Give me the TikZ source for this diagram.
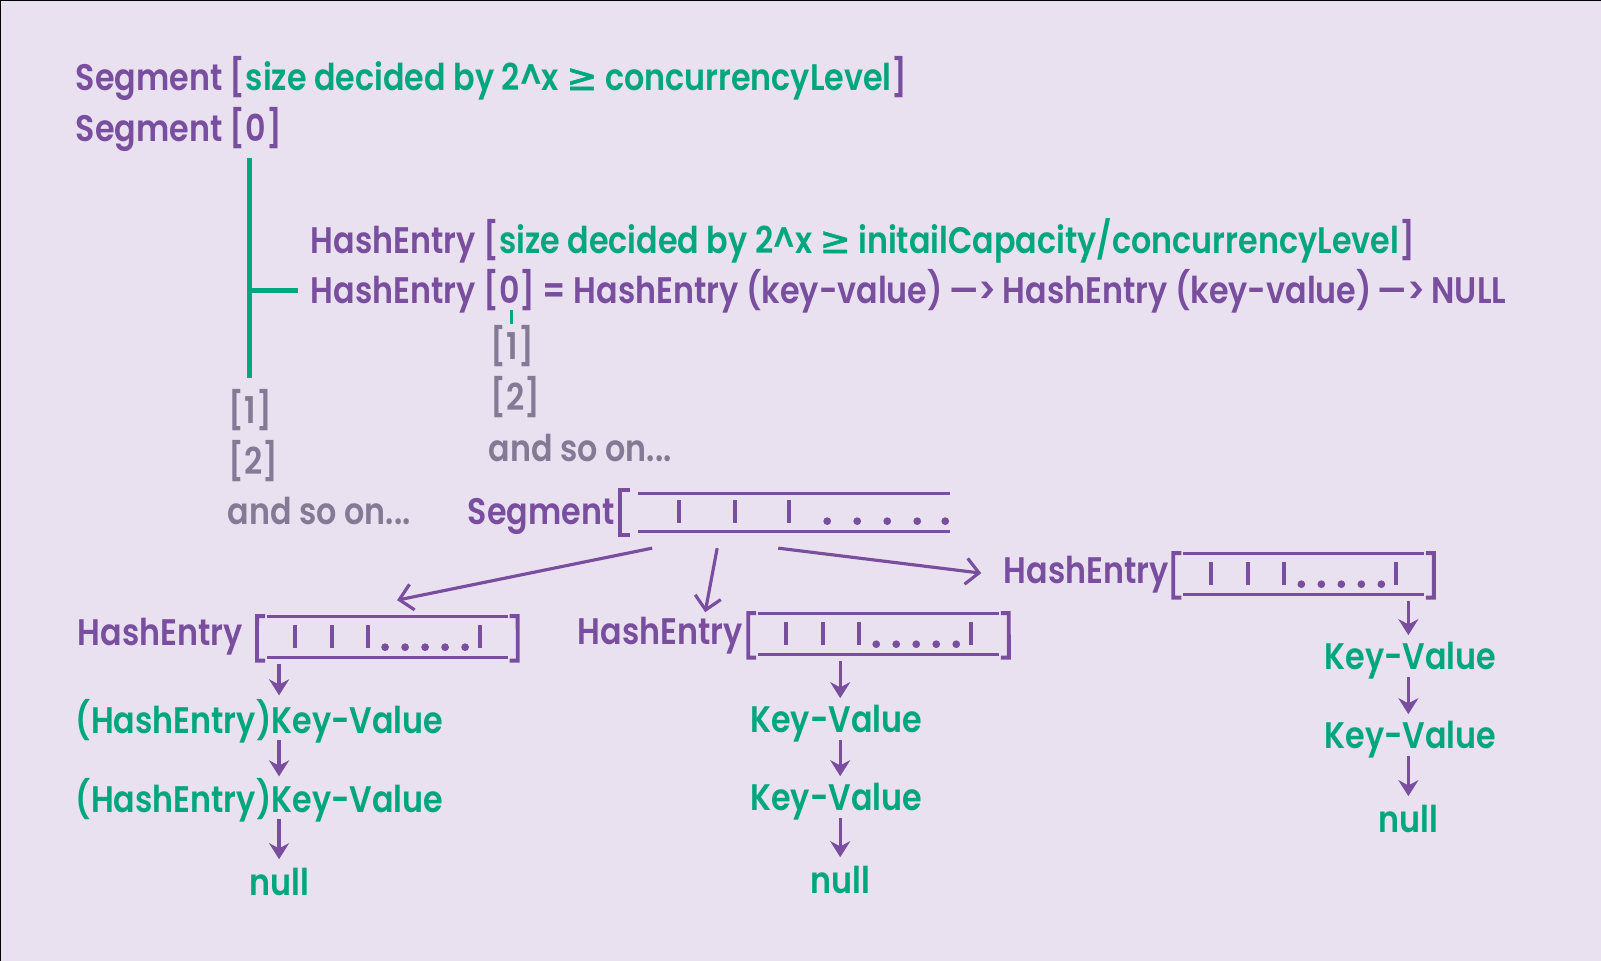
\documentclass[tikz,border=0pt]{standalone}
\usepackage{fontspec}
\setmainfont{Poppins}[UprightFont=* SemiBold, FakeStretch=0.86]
\newfontfamily\symfont{DejaVu Sans}[FakeBold=1.5]
\usetikzlibrary{arrows.meta, positioning, calc}
\definecolor{bgpurple}{HTML}{E9E1F0}
\definecolor{plum}{HTML}{7A4E9F}
\definecolor{mint}{HTML}{00A67E}
\definecolor{slate}{HTML}{857A95}
\newcommand{\geqsym}{{\symfont ≥}}
\newcommand{\linkto}{\,—>\,}

\begin{document}
\begin{tikzpicture}[
    x=0.01cm, y=-0.01cm,
    lbl/.style={anchor=base west, inner sep=0pt, font=\fontsize{10.5}{12}\selectfont, text=plum},
    idx/.style={lbl, text=slate},
    kv/.style={anchor=base, inner sep=0pt, font=\fontsize{10.5}{12}\selectfont, text=mint},
    kvw/.style={kv, anchor=base west},
    arraybox/.style={rectangle, inner sep=0pt, minimum width=2.39cm, minimum height=0.40cm},
    bar/.style={plum, line width=0.8pt},
    tick/.style={plum, line width=1.1pt},
    link/.style={mint, line width=1.4pt},
    arrow/.style={plum, line width=0.9pt, -{Straight Barb[length=1.3mm, width=2.6mm]}},
    down/.style={plum, line width=0.9pt, -{Stealth[length=1.6mm, width=2.0mm]}},
]
    % Background
    \useasboundingbox (0,0) rectangle (1600.6,960.6);
    \fill[bgpurple] (-10,-10) rectangle (1611,971);
    \draw[black, line width=0.4pt] (0.7,971) -- (0.7,0.7) -- (1611,0.7);

    % Header lines
    \node[lbl] (segsize) at (75,90) {Segment [\textcolor{mint}{size decided by 2\textasciicircum x \geqsym\ concurrencyLevel}]};
    \node[lbl] (seg0) at (75,141) {Segment [0]};
    \node[lbl] (hsize) at (310,253) {HashEntry [\textcolor{mint}{size decided by 2\textasciicircum x \geqsym\ initailCapacity/concurrencyLevel}]};
    \node[lbl] (hzero) at (310,303) {HashEntry [0] = HashEntry (key-value)\linkto HashEntry (key-value)\linkto NULL};

    % Index lists
    \node[idx] (hone) at (490,359) {[1]};
    \node[idx] (htwo) at (490,410) {[2]};
    \node[idx] (hmore) at (488,461) {and so on...};
    \node[idx] (sone) at (228,423) {[1]};
    \node[idx] (stwo) at (228,474) {[2]};
    \node[idx] (smore) at (227,524) {and so on...};

    % Tree links
    \coordinate (trunkTop) at (249,158);
    \coordinate (trunkBot) at (249,378);
    \coordinate (stubTop) at (511,310);
    \coordinate (stubBot) at (511,324);
    \draw[link] (trunkTop) -- (trunkBot);
    \draw[link, shorten >=0.12cm] (trunkTop |- hzero.west) -- (hzero.west);
    \draw[mint, line width=0.9pt] (stubTop) -- (stubBot);

    % Segment array
    \node[lbl] (segarr) at (467,524) {Segment};
    \node[arraybox, minimum width=3.10cm, minimum height=0.37cm, anchor=north west] (segbox) at (638,493) {};
    \draw[plum, line width=1.1pt] ([xshift=-0.08cm, yshift=0.03cm]segbox.north west) -| ([xshift=-0.18cm, yshift=-0.03cm]segbox.south west) -- ([xshift=-0.08cm, yshift=-0.03cm]segbox.south west);
    \draw[bar] (segbox.north west) -- (segbox.north east);
    \draw[bar] (segbox.south west) -- (segbox.south east);
    \foreach \dx in {41,97,151}
        \draw[tick] ([xshift=\dx*0.01cm, yshift=-0.07cm]segbox.north west) -- ++(0,23);
    \foreach \dx in {189,219,249,279,307}
        \fill[plum] ([xshift=\dx*0.01cm, yshift=-0.28cm]segbox.north west) circle (1.1pt);

    % HashEntry arrays
    \node[lbl] (hlabA) at (77,645) {HashEntry};
    \node[lbl] (hlabB) at (577,644) {HashEntry};
    \node[lbl] (hlabC) at (1003,583) {HashEntry};
    \node[arraybox, anchor=north west] (arrA) at (267,616) {};
    \node[arraybox, anchor=north west] (arrB) at (758,613) {};
    \node[arraybox, anchor=north west] (arrC) at (1183,553) {};

    \foreach \a in {arrA,arrB,arrC} {
        \draw[bar] (\a.north west) -- (\a.north east);
        \draw[bar] (\a.south west) -- (\a.south east);
        \draw[plum, line width=1.1pt] ([xshift=-0.02cm]\a.north west) -- ++(-8,0) -- ([xshift=-0.10cm, yshift=-0.03cm]\a.south west) -- ++(8,0);
        \draw[plum, line width=1.1pt] ([xshift=0.02cm]\a.north east) -- ++(8,0) -- ([xshift=0.10cm, yshift=-0.03cm]\a.south east) -- ++(-8,0);
        \foreach \dx in {28,65,101,213}
            \draw[tick] ([xshift=\dx*0.01cm, yshift=-0.09cm]\a.north west) -- ++(0,23);
        \foreach \dx in {118,138,158,178,198}
            \fill[plum] ([xshift=\dx*0.01cm, yshift=-0.31cm]\a.north west) circle (1.1pt);
    }

    % Arrows from the segment
    \coordinate (fromA) at (652,548);
    \coordinate (fromB) at (717,548);
    \coordinate (fromC) at (778,548);
    \coordinate (toA) at (397,600);
    \coordinate (toB) at (705,612);
    \coordinate (toC) at (981,573);
    \draw[arrow] (fromA) -- (toA);
    \draw[arrow] (fromB) -- (toB);
    \draw[arrow] (fromC) -- (toC);

    % Left chain
    \node[kvw] (kvA1) at (75,733) {(HashEntry)Key-Value};
    \node[kvw] (kvA2) at (75,812) {(HashEntry)Key-Value};
    \node[kv] (nullA) at (279,895) {null};
    \draw[down, shorten <=0.6mm, shorten >=0.3mm] (arrA.south -| nullA) -- (kvA1.north -| nullA);
    \draw[down, shorten <=-0.4mm, shorten >=0.1mm] (kvA1.south -| nullA) -- (kvA2.north -| nullA);
    \draw[down, shorten <=-0.4mm, shorten >=0.8mm] (kvA2.south -| nullA) -- (nullA.north);

    % Middle chain
    \node[kv] (kvB1) at (836,732) {Key-Value};
    \node[kv] (kvB2) at (836,810) {Key-Value};
    \node[kv] (nullB) at (840,893) {null};
    \draw[down, shorten <=0.6mm, shorten >=0.6mm] (arrB.south -| nullB) -- (kvB1.north -| nullB);
    \draw[down, shorten <=-0.3mm, shorten >=0.6mm] (kvB1.south -| nullB) -- (kvB2.north -| nullB);
    \draw[down, shorten <=-0.3mm, shorten >=0.8mm] (kvB2.south -| nullB) -- (nullB.north);

    % Right chain
    \node[kv] (kvC1) at (1410,669) {Key-Value};
    \node[kv] (kvC2) at (1410,748) {Key-Value};
    \node[kv] (nullC) at (1408,832) {null};
    \draw[down, shorten <=0.6mm, shorten >=0.6mm] (arrC.south -| nullC) -- (kvC1.north -| nullC);
    \draw[down, shorten <=-0.3mm, shorten >=0.6mm] (kvC1.south -| nullC) -- (kvC2.north -| nullC);
    \draw[down, shorten <=-0.3mm, shorten >=0.8mm] (kvC2.south -| nullC) -- (nullC.north);
\end{tikzpicture}
\end{document}
